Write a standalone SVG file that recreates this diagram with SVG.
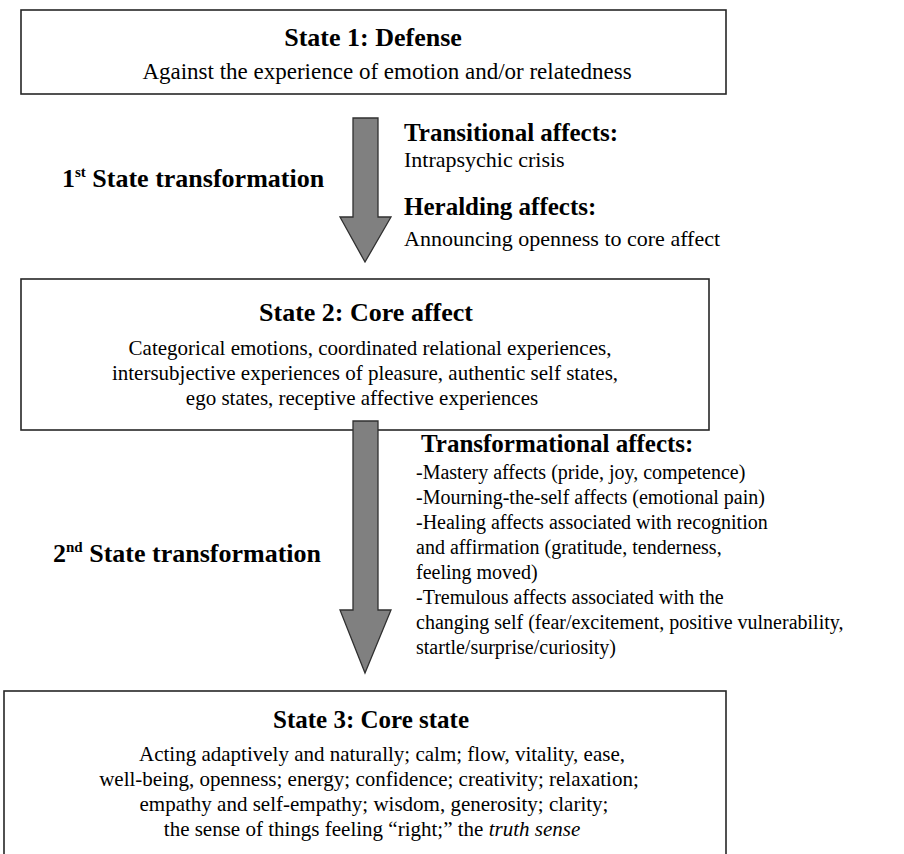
<svg xmlns="http://www.w3.org/2000/svg" width="904" height="854" viewBox="0 0 904 854" font-family="Liberation Serif">
<rect x="0" y="0" width="904" height="854" fill="#fff"/>

<g id="state1" font-family="Liberation Serif" fill="#000">
  <rect x="21" y="10" width="705" height="84" fill="#fff" stroke="#262626" stroke-width="1.6"/>
  <text font-family="Liberation Serif" font-weight="bold" font-size="26" text-anchor="middle" x="373" y="46">State 1: Defense</text>
  <text font-family="Liberation Serif" font-size="23" text-anchor="middle" x="387" y="79">Against the experience of emotion and/or relatedness</text>
</g>

<g id="state2" font-family="Liberation Serif" fill="#000">
  <rect x="21" y="279" width="688" height="151" fill="#fff" stroke="#262626" stroke-width="1.6"/>
  <text font-family="Liberation Serif" font-weight="bold" font-size="26" text-anchor="middle" x="366" y="321">State 2: Core affect</text>
  <text font-family="Liberation Serif" font-size="21" text-anchor="middle" x="370" y="355">Categorical emotions, coordinated relational experiences,</text>
  <text font-family="Liberation Serif" font-size="21" text-anchor="middle" x="365" y="380">intersubjective experiences of pleasure, authentic self states,</text>
  <text font-family="Liberation Serif" font-size="21" text-anchor="middle" x="362" y="405">ego states, receptive affective experiences</text>
</g>

<g id="state3" font-family="Liberation Serif" fill="#000">
  <rect x="4" y="691" width="722" height="200" fill="#fff" stroke="#262626" stroke-width="1.6"/>
  <text font-family="Liberation Serif" font-weight="bold" font-size="25" text-anchor="middle" x="371" y="728">State 3: Core state</text>
  <text font-family="Liberation Serif" font-size="21" text-anchor="middle" x="382" y="761">Acting adaptively and naturally; calm; flow, vitality, ease,</text>
  <text font-family="Liberation Serif" font-size="21" text-anchor="middle" x="369" y="786">well-being, openness; energy; confidence; creativity; relaxation;</text>
  <text font-family="Liberation Serif" font-size="21" text-anchor="middle" x="374" y="811">empathy and self-empathy; wisdom, generosity; clarity;</text>
  <text font-family="Liberation Serif" font-size="21" text-anchor="middle" x="372" y="836">the sense of things feeling “right;” the <tspan font-style="italic">truth sense</tspan></text>
</g>

<g id="connectors" fill="#808080" stroke="#303030" stroke-width="1.3">
  <polygon id="arrow1" points="353,118 378,118 378,217 391,217 365,262 340,217 353,217"/>
  <polygon id="arrow2" points="353,421 378,421 378,610 391,610 365,673 340,610 353,610"/>
</g>

<g id="transition1" font-family="Liberation Serif" fill="#000">
  <text font-family="Liberation Serif" font-weight="bold" font-size="26" x="62" y="187">1<tspan font-size="15" dy="-10">st</tspan><tspan dy="10"> State transformation</tspan></text>
  <text font-family="Liberation Serif" font-weight="bold" font-size="25" x="404" y="141">Transitional affects:</text>
  <text font-family="Liberation Serif" font-size="22" x="404" y="167">Intrapsychic crisis</text>
  <text font-family="Liberation Serif" font-weight="bold" font-size="25" x="404" y="215">Heralding affects:</text>
  <text font-family="Liberation Serif" font-size="22" x="404" y="246">Announcing openness to core affect</text>
</g>

<g id="transition2" font-family="Liberation Serif" fill="#000">
  <text font-family="Liberation Serif" font-weight="bold" font-size="26" x="53" y="562">2<tspan font-size="15" dy="-10">nd</tspan><tspan dy="10"> State transformation</tspan></text>
  <text font-family="Liberation Serif" font-weight="bold" font-size="25" x="421" y="452">Transformational affects:</text>
  <text font-family="Liberation Serif" font-size="20" x="416" y="479">-Mastery affects (pride, joy, competence)</text>
  <text font-family="Liberation Serif" font-size="20" x="416" y="504">-Mourning-the-self affects (emotional pain)</text>
  <text font-family="Liberation Serif" font-size="20" x="416" y="529">-Healing affects associated with recognition</text>
  <text font-family="Liberation Serif" font-size="20" x="416" y="554">and affirmation (gratitude, tenderness,</text>
  <text font-family="Liberation Serif" font-size="20" x="416" y="579">feeling moved)</text>
  <text font-family="Liberation Serif" font-size="20" x="416" y="604">-Tremulous affects associated with the</text>
  <text font-family="Liberation Serif" font-size="20" x="416" y="629">changing self (fear/excitement, positive vulnerability,</text>
  <text font-family="Liberation Serif" font-size="20" x="416" y="654">startle/surprise/curiosity)</text>
</g>
</svg>
